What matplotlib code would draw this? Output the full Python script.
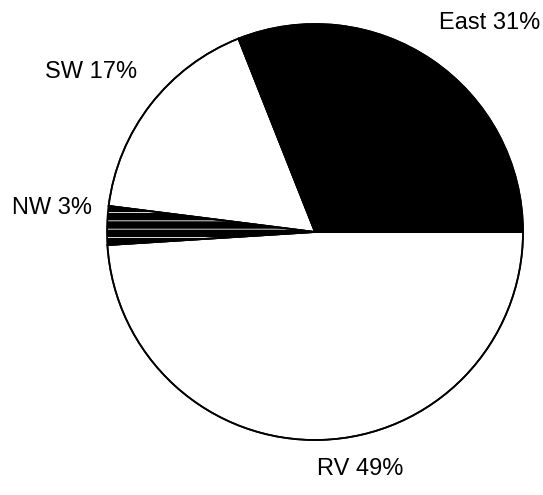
import matplotlib
matplotlib.use("Agg")
import matplotlib.pyplot as plt

# 区域占比
regions = ["East", "SW", "NW", "RV"]
shares = [31, 17, 3, 49]
labels = [f"{r} {s}%" for r, s in zip(regions, shares)]

plt.rcParams['font.family'] = ['Liberation Sans Narrow', 'Liberation Sans', 'DejaVu Sans']
plt.rcParams['hatch.linewidth'] = 0.6

fig = plt.figure(figsize=(5.43, 4.95), dpi=100)
ax = fig.add_axes([0, 0, 1, 1])
ax.set_xlim(0, 543)
ax.set_ylim(0, 495)
ax.set_aspect('equal')
ax.axis('off')

colors = ["black", "white", "black", "white"]
wedges, _ = ax.pie(shares, colors=colors, startangle=0, counterclock=True,
                   center=(315, 263), radius=208,
                   wedgeprops=dict(edgecolor="black", linewidth=1.2))

# NW 扇区：黑底带稀疏白色横纹
nw = wedges[2]
nw.set_edgecolor("white")
nw.set_hatch("--")
nw.set_linewidth(0)
ax.pie(shares, colors=["white"] * len(shares), startangle=0, counterclock=True,
       center=(315, 263), radius=208,
       wedgeprops=dict(edgecolor="black", linewidth=1.3, fill=False))

ax.set_xlim(0, 543)
ax.set_ylim(0, 495)

# 标签位置
label_pos = [(490, 472), (91, 423), (52, 287), (360, 26)]
for text, (x, y) in zip(labels, label_pos):
    ax.text(x, y, text, fontsize=17, ha="center", va="center", color="black")

fig.savefig("out.png", dpi=100, facecolor="white")
